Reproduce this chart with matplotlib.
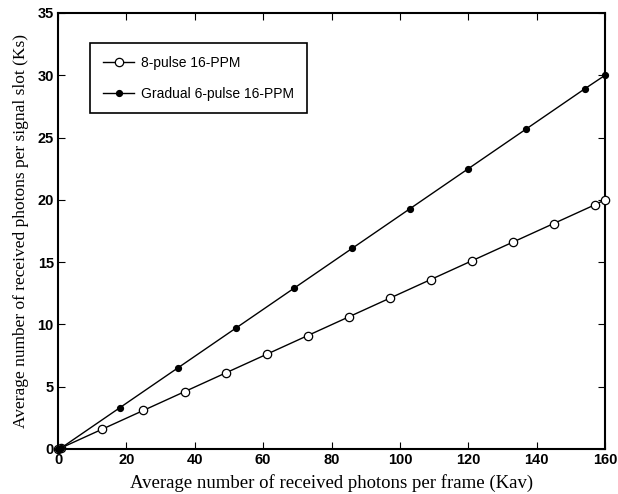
import matplotlib
matplotlib.use("Agg")
import matplotlib.pyplot as plt

x_open = [0, 1, 13, 25, 37, 49, 61, 73, 85, 97, 109, 121, 133, 145, 157, 160]
y_open = [0, 0.1, 1.6, 3.1, 4.6, 6.1, 7.6, 9.1, 10.6, 12.1, 13.6, 15.1, 16.6, 18.1, 19.6, 20.0]
x_fill = [0, 1, 18, 35, 52, 69, 86, 103, 120, 137, 154, 160]
y_fill = [0, 0.1, 3.3, 6.5, 9.7, 12.9, 16.1, 19.3, 22.5, 25.7, 28.9, 30.0]
label_open = "8-pulse 16-PPM"
label_fill = "Gradual 6-pulse 16-PPM"
xticks = [0, 20, 40, 60, 80, 100, 120, 140, 160]
yticks = [0, 5, 10, 15, 20, 25, 30, 35]

fig = plt.figure(figsize=(6.18, 4.94), dpi=100)
ax = fig.add_axes([0.0939, 0.0911, 0.979 - 0.0939, 0.9737 - 0.0911])

ax.plot(x_open, y_open, color="black", lw=1.0, marker="o", markersize=6.0,
        markerfacecolor="white", markeredgecolor="black", markeredgewidth=0.9,
        label=label_open, clip_on=False, zorder=3)
ax.plot(x_fill, y_fill, color="black", lw=1.0, marker="o", markersize=4.2,
        markerfacecolor="black", markeredgecolor="black", label=label_fill,
        clip_on=False, zorder=3)

ax.set_xlim(0, 160)
ax.set_ylim(0, 35)
ax.set_xticks(xticks)
ax.set_yticks(yticks)
ax.tick_params(direction="in", top=True, right=True, length=5, width=0.8, pad=3)
for lab in ax.get_xticklabels() + ax.get_yticklabels():
    lab.set_fontfamily("Liberation Sans")
    lab.set_fontweight("bold")
    lab.set_fontsize(10.5)
for s in ax.spines.values():
    s.set_linewidth(1.5)

ax.set_xlabel("Average number of received photons per frame (Kav)",
              fontfamily="Liberation Serif", fontsize=13.5, labelpad=5)
ax.set_ylabel("Average number of received photons per signal slot (Ks)",
              fontfamily="Liberation Serif", fontsize=12.5, labelpad=6)

leg = ax.legend(loc="upper left", bbox_to_anchor=(0.0585, 0.931), fancybox=False,
                edgecolor="black", framealpha=1, borderpad=0.9, labelspacing=1.25,
                handlelength=2.3, handletextpad=0.5, borderaxespad=0,
                prop={"family": "Liberation Sans", "size": 10})
leg.get_frame().set_linewidth(1.2)

fig.savefig("out.png", dpi=100)
